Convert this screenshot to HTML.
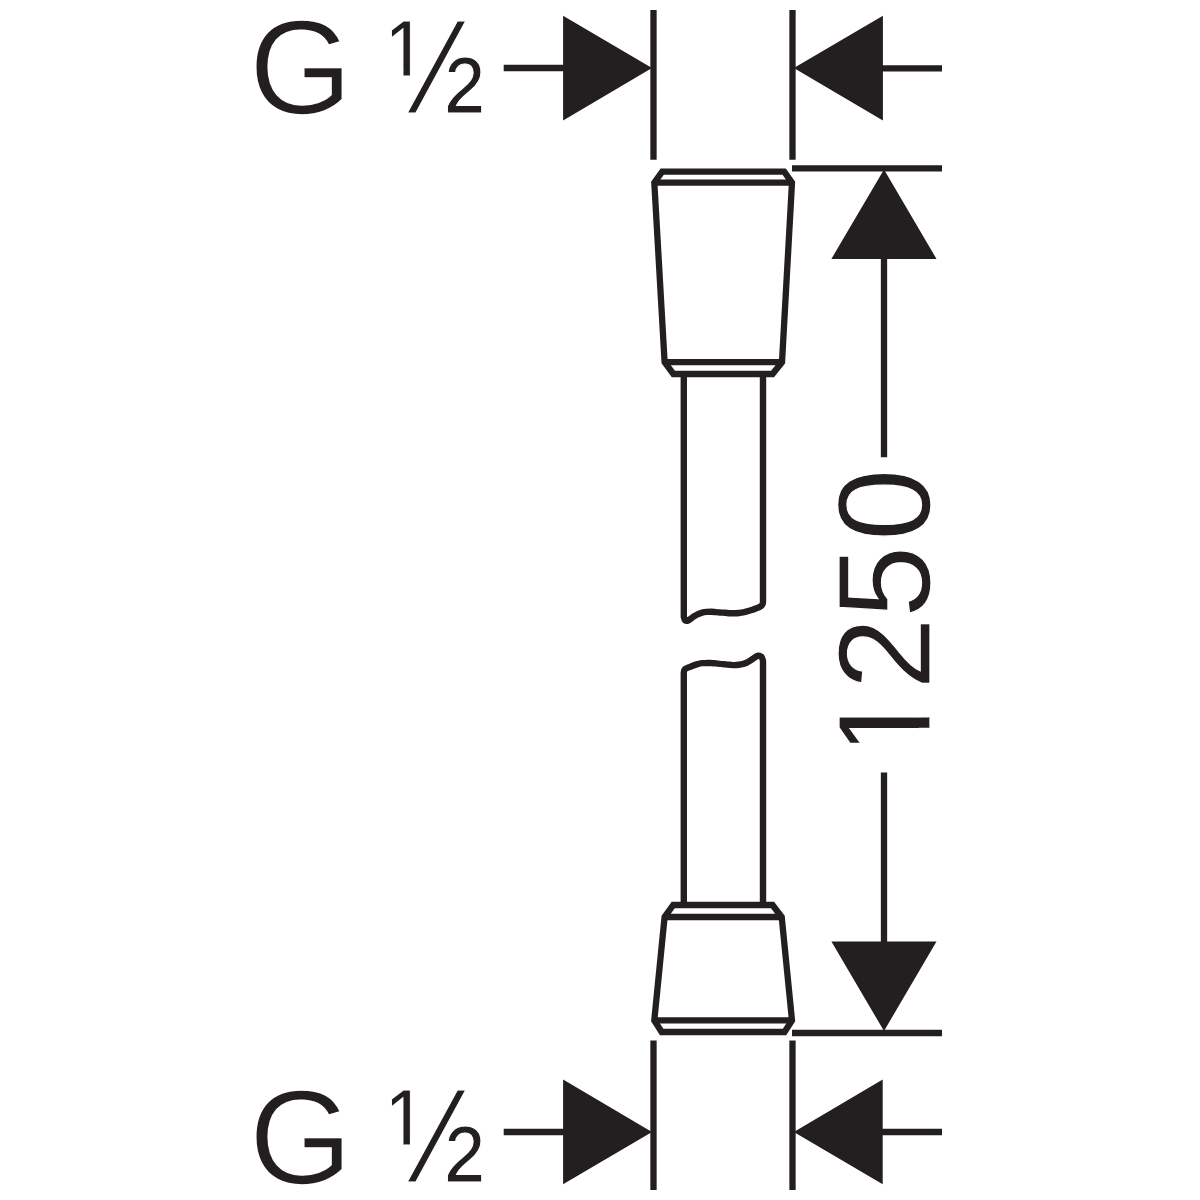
<!DOCTYPE html>
<html lang="en">
<head>
<meta charset="utf-8">
<title>Shower hose 1250 mm – G ½ dimension drawing</title>
<style>
html,body{margin:0;padding:0;background:#fff;}
body{width:1200px;height:1200px;overflow:hidden;}
svg{display:block;position:absolute;left:0;top:0;}
text{font-family:"Liberation Sans",sans-serif;fill:#231f20;stroke:#fff;stroke-linejoin:miter;}
.g{font-size:132.9px;stroke-width:1.6;}
.h{font-size:133.7px;stroke-width:1.08;}
.n{font-size:131.1px;stroke-width:1.2;}
.s{fill:none;stroke:#231f20;stroke-width:6.3;stroke-linejoin:miter;stroke-linecap:butt;}
.r{fill:none;stroke:#231f20;stroke-width:6.4;stroke-linejoin:round;stroke-linecap:round;}
.a{fill:#231f20;stroke:none;}
</style>
</head>
<body>
<svg width="1200" height="1200" viewBox="0 0 1200 1200">
<rect width="1200" height="1200" fill="#fff"/>

<defs><clipPath id="ch"><path clip-rule="evenodd" d="M-20 -140H140V40H-20ZM0 -44.74H18.01V-34.75H0ZM25.41 -44.74H45.05V-34.75H25.41Z"/></clipPath><clipPath id="c1"><path clip-rule="evenodd" d="M-1.14 -140H300V40H-1.14ZM-1.14 -10.79H14.01V3H-1.14ZM24.09 -10.79H49.43V3H24.09Z"/></clipPath></defs>
<!-- thread labels -->
<text class="g" x="249.0" y="114.1">G</text>
<g transform="translate(387.8,113.3) scale(0.87,1)"><text class="h" x="0" y="0" clip-path="url(#ch)">½</text></g>
<text class="g" x="249.0" y="1183.8">G</text>
<g transform="translate(387.8,1182.4) scale(0.87,1)"><text class="h" x="0" y="0" clip-path="url(#ch)">½</text></g>

<!-- length label -->
<g transform="translate(929.5,741.7) rotate(-90)"><text class="n" x="-19.7 51.6 123.5 200.4" y="0" clip-path="url(#c1)">1250</text></g>

<!-- extension lines -->
<path class="s" d="M653.5 10V159.7M792.5 10V159.7M653.5 1040.5V1190M792.5 1040.5V1190"/>
<path class="s" d="M792 168.3H942M792 1033H942"/>
<!-- dimension lines -->
<path class="s" d="M503.7 68H565M881 68.3H942M503.7 1132H565M881 1132H942"/>
<path class="s" d="M884 256V457.2M884 772.5V944"/>
<!-- arrow heads -->
<path class="a" d="M563.1 15.7V120.4L652 68ZM882.9 15.7V120.4L793.8 68ZM563.1 1079.6V1184.2L652 1132ZM882.7 1079.4V1184.2L793.8 1132Z"/>
<path class="a" d="M884 169.6L831.4 258.9H936.5ZM884 1031L831.4 941.6H936.5Z"/>

<!-- upper connector -->
<path class="s" d="M662.2 171.7H784.2L792 182.7L782 362.2L772.5 374H673.4L664.6 362.2L654.3 182.7Z"/>
<path class="s" d="M654.3 182.7H792M664.6 362.2H782"/>
<!-- lower connector -->
<path class="s" d="M673.3 905H772.5L781.7 917L792 1020.4L784.5 1032H661.7L654.3 1020.4L664.6 917Z"/>
<path class="s" d="M664.6 917H781.7M654.3 1020.4H792"/>

<!-- hose -->
<path class="r" d="M683.8 376V616.7C684.1 617.9 684.4 619.5 685.1 620.2C685.8 620.8 686.8 621.1 688.1 620.6C689.4 620.1 691.3 618.2 692.9 617.1C694.5 616.1 696.0 615.1 697.5 614.4C699.0 613.6 700.6 613.0 702.1 612.6C703.6 612.2 705.1 612.0 706.7 611.9C708.2 611.8 709.7 611.8 711.3 611.8C712.8 611.8 714.3 612.0 715.8 612.1C717.4 612.2 718.9 612.3 720.4 612.5C721.9 612.6 723.5 612.7 725.0 612.8C726.5 612.9 728.1 613.1 729.6 613.2C731.1 613.3 732.6 613.3 734.2 613.3C735.7 613.2 737.2 613.2 738.8 613.0C740.3 612.8 741.8 612.6 743.3 612.3C744.9 612.0 746.4 611.6 747.9 611.2C749.4 610.8 751.0 610.3 752.5 609.8C754.0 609.3 755.7 608.6 757.1 608.1C758.5 607.5 759.8 607.0 760.8 606.2C761.7 605.5 762.3 604.7 762.7 603.7C763.1 602.6 763.0 601.4 763.0 600.2V376"/>
<path class="r" d="M683.8 903V672.6C684.0 671.4 683.9 670.2 684.7 669.4C685.4 668.5 687.0 668.2 688.3 667.5C689.7 666.9 691.4 666.3 692.9 665.7C694.4 665.1 696.0 664.6 697.5 664.2C699.0 663.7 700.6 663.4 702.1 663.2C703.6 663.0 705.1 663.0 706.7 663.0C708.2 662.9 709.7 662.9 711.3 663.0C712.8 663.0 714.3 663.3 715.8 663.4C717.4 663.6 718.9 663.7 720.4 663.9C721.9 664.0 723.5 664.2 725.0 664.3C726.5 664.5 728.1 664.7 729.6 664.8C731.1 664.9 732.6 665.1 734.2 665.1C735.7 665.1 737.2 665.0 738.8 664.8C740.3 664.6 741.8 664.3 743.3 663.9C744.9 663.4 746.4 662.9 747.9 662.0C749.4 661.2 751.1 659.9 752.5 659.0C753.9 658.1 755.1 657.1 756.2 656.5C757.2 656.0 757.8 655.5 758.7 655.6C759.7 655.7 760.9 656.3 761.7 657.2C762.4 658.1 762.8 659.9 763.0 661.1V903"/>
</svg>
</body>
</html>
